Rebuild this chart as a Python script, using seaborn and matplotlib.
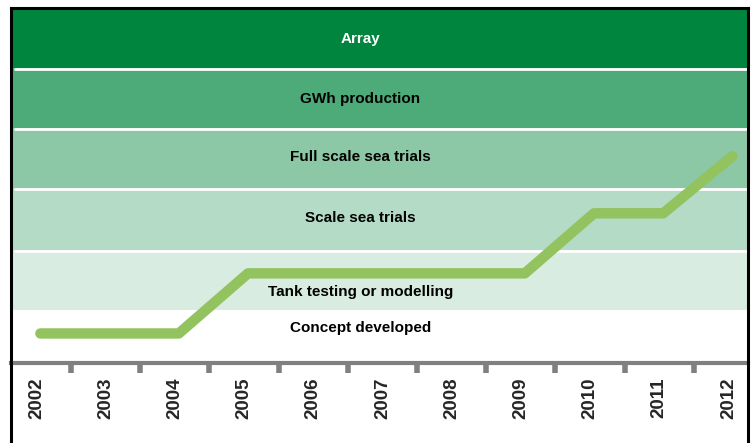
import matplotlib
matplotlib.use("Agg")
import matplotlib.pyplot as plt
import matplotlib.transforms as mtransforms
import seaborn as sns
import pandas as pd
from matplotlib.lines import Line2D

# ---- data ----
years = [2002, 2003, 2004, 2005, 2006, 2007, 2008, 2009, 2010, 2011, 2012]
stages = ["Concept developed", "Tank testing or modelling", "Scale sea trials",
          "Full scale sea trials", "GWh production", "Array"]
stage_colors = ["#FFFFFF", "#D9ECE1", "#B3DBC5", "#8CC8A5", "#4DAB7A", "#00853E"]
progress_years = [2002, 2004, 2005, 2009, 2010, 2011, 2012]
progress_level = [0.5, 0.5, 1.5, 1.5, 2.5, 2.5, 3.45]

df = pd.DataFrame({"year": progress_years, "level": progress_level})

sns.set_theme(style="white")
plt.rcParams["font.family"] = ["Liberation Sans", "DejaVu Sans"]

W, H = 754, 443
fig = plt.figure(figsize=(W / 100, H / 100), dpi=100)
x0, x1, ytop, yax = 11, 748, 8, 362.5
ax = fig.add_axes([x0 / W, 1 - yax / H, (x1 - x0) / W, (yax - ytop) / H])

# band boundaries (layout)
bounds = [0, 0.87, 1.87, 2.9, 3.9, 4.9, 5.9]
label_y = [0.57, 1.17, 2.4, 3.42, 4.39, 5.39]
for i, (name, col) in enumerate(zip(stages, stage_colors)):
    ax.axhspan(bounds[i], bounds[i + 1], color=col, lw=0, zorder=0)
    ax.text(0.474, label_y[i], name, transform=ax.get_yaxis_transform(),
            ha="center", va="center", fontsize=11, fontweight="bold",
            color="white" if name == "Array" else "black", zorder=3)
for b in bounds[1:-1]:
    ax.axhline(b, color="white", lw=2, zorder=1)

sns.lineplot(data=df, x="year", y="level", ax=ax, color="#92C35E", lw=7.5,
             solid_capstyle="round", solid_joinstyle="round", zorder=2)
shift = mtransforms.ScaledTranslation(4 / 100, -1 / 100, fig.dpi_scale_trans)
for ln in ax.get_lines():
    ln.set_transform(ln.get_transform() + shift)

ax.set_xlim(2001.633, 2012.283)
ax.set_ylim(0, 5.9)
ax.set_xticks(years)
ax.set_xticklabels([str(y) for y in years], rotation=90, fontsize=13.5,
                   fontweight="bold")
ax.set_xticks([y + 0.5 for y in years[:-1]], minor=True)
ax.tick_params(axis="x", which="major", length=0, pad=11)
ax.tick_params(axis="x", which="minor", bottom=True, length=7.5, width=4,
               color="#808080", direction="out")
ax.set_yticks([])
ax.set_xlabel("")
ax.set_ylabel("")
for s in ["left", "right", "top"]:
    ax.spines[s].set_visible(False)
ax.spines["bottom"].set_color("#808080")
ax.spines["bottom"].set_linewidth(3)

# outer frame
def px(x, y):
    return x / W, 1 - y / H
for (xa, ya), (xb, yb) in [((x0, ytop), (x1, ytop)), ((x0, ytop), (x0, H + 5)),
                           ((x1, ytop), (x1, H + 5))]:
    (fx0, fy0), (fx1, fy1) = px(xa, ya), px(xb, yb)
    fig.add_artist(Line2D([fx0, fx1], [fy0, fy1], color="black", lw=2.2,
                          solid_capstyle="projecting"))

fig.savefig("out.png", dpi=100)
